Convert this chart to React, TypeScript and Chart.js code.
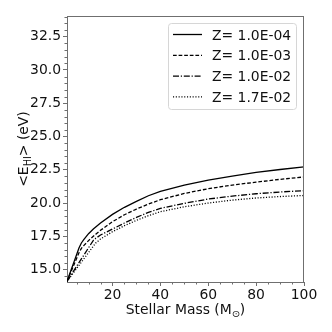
import React, { useEffect, useRef } from "react";
import { Chart, registerables } from "chart.js";

Chart.register(...registerables);

// ---- data ----
const masses = [1, 2, 3, 4, 5, 6, 7, 8, 10, 12, 13, 15, 20, 25, 30, 35, 40, 50, 60, 70, 80, 90, 100];
const zA = [14.12, 14.62, 15.12, 15.62, 16.12, 16.62, 17.0, 17.25, 17.7, 18.05, 18.2, 18.5, 19.15, 19.68, 20.12, 20.55, 20.88, 21.35, 21.72, 22.02, 22.3, 22.52, 22.72];
const zB = [14.12, 14.55, 14.98, 15.41, 15.84, 16.27, 16.6, 16.8, 17.18, 17.5, 17.65, 17.95, 18.6, 19.12, 19.55, 19.92, 20.25, 20.72, 21.08, 21.35, 21.57, 21.78, 21.96];
const zC = [14.12, 14.4, 14.68, 14.96, 15.24, 15.52, 15.8, 16.08, 16.64, 17.2, 17.35, 17.6, 18.05, 18.5, 18.92, 19.3, 19.6, 19.98, 20.3, 20.52, 20.7, 20.83, 20.93];
const zD = [14.12, 14.36, 14.6, 14.84, 15.08, 15.32, 15.56, 15.8, 16.28, 16.76, 17.0, 17.3, 17.85, 18.3, 18.7, 19.05, 19.35, 19.72, 20.0, 20.22, 20.38, 20.49, 20.57];
const seriesLabels = ["Z= 1.0E-04", "Z= 1.0E-03", "Z= 1.0E-02", "Z= 1.7E-02"];
const yTicks = [15, 17.5, 20, 22.5, 25, 27.5, 30, 32.5];
const xTicks = [20, 40, 60, 80, 100];
const xRange = [1, 100];
const yRange = [14.07, 34.05];

const FONT = "DejaVu Sans";
const FS = 13.9;
const TEXT = "#111111";
const SPINE = "#6f6f6f";
const dashes = [[], [3.7, 1.9], [6, 1.8, 1.2, 1.8], [1.1, 1.7]];

function drawRich(ctx: CanvasRenderingContext2D, parts: { t: string; sub?: boolean }[], cx: number, by: number) {
  const widths = parts.map((p) => {
    ctx.font = `${p.sub ? FS * 0.7 : FS}px "${FONT}"`;
    return ctx.measureText(p.t).width;
  });
  const total = widths.reduce((a, b) => a + b, 0);
  let x = cx - total / 2;
  parts.forEach((p, i) => {
    ctx.font = `${p.sub ? FS * 0.7 : FS}px "${FONT}"`;
    ctx.fillText(p.t, x, p.sub ? by + 3 : by);
    x += widths[i];
  });
}

const decor = {
  id: "decor",
  afterDraw(chart: any) {
    const { ctx, chartArea: ca, scales } = chart;
    const xs = scales.x;
    const ys = scales.y;
    ctx.save();
    // top + right spines
    ctx.strokeStyle = SPINE;
    ctx.lineWidth = 1;
    ctx.beginPath();
    ctx.moveTo(ca.left, Math.round(ca.top) + 0.5);
    ctx.lineTo(ca.right, Math.round(ca.top) + 0.5);
    ctx.moveTo(Math.round(ca.right) - 0.5, ca.top);
    ctx.lineTo(Math.round(ca.right) - 0.5, ca.bottom);
    ctx.stroke();
    // minor ticks
    ctx.beginPath();
    for (let v = 14.5; v <= yRange[1]; v += 0.5) {
      if (Math.abs(v / 2.5 - Math.round(v / 2.5)) < 1e-6) continue;
      const py = Math.round(ys.getPixelForValue(v)) + 0.5;
      ctx.moveTo(ca.left - 2.5, py);
      ctx.lineTo(ca.left, py);
    }
    for (let v = 5; v < 100; v += 5) {
      if (v % 20 === 0) continue;
      const px = Math.round(xs.getPixelForValue(v)) + 0.5;
      ctx.moveTo(px, ca.bottom);
      ctx.lineTo(px, ca.bottom + 2.5);
    }
    ctx.stroke();

    // axis titles
    ctx.fillStyle = TEXT;
    ctx.textBaseline = "alphabetic";
    ctx.textAlign = "left";
    drawRich(ctx, [{ t: "Stellar Mass (M" }, { t: "⊙", sub: true }, { t: ")" }], (ca.left + ca.right) / 2, 313.5);
    ctx.save();
    ctx.translate(27.5, (ca.top + ca.bottom) / 2);
    ctx.rotate(-Math.PI / 2);
    drawRich(ctx, [{ t: "<E" }, { t: "HI", sub: true }, { t: "> (eV)" }], 0, 0);
    ctx.restore();

    // legend
    const bx = 168.5, by = 23.5, bw = 128, bh = 86;
    ctx.globalAlpha = 0.8;
    ctx.fillStyle = "#ffffff";
    ctx.beginPath();
    ctx.roundRect(bx, by, bw, bh, 3);
    ctx.fill();
    ctx.globalAlpha = 1;
    ctx.strokeStyle = "#d6d6d6";
    ctx.lineWidth = 1;
    ctx.stroke();
    const rows = [34.5, 55.3, 76.1, 96.9];
    chart.data.datasets.forEach((ds: any, i: number) => {
      const ry = rows[i];
      ctx.strokeStyle = ds.borderColor;
      ctx.lineWidth = ds.borderWidth;
      ctx.setLineDash(ds.borderDash || []);
      ctx.beginPath();
      ctx.moveTo(173, ry);
      ctx.lineTo(202, ry);
      ctx.stroke();
      ctx.setLineDash([]);
      ctx.fillStyle = TEXT;
      ctx.font = `${FS}px "${FONT}"`;
      ctx.textAlign = "left";
      ctx.textBaseline = "alphabetic";
      ctx.fillText(ds.label, 212, ry + 5);
    });
    ctx.restore();
  },
};

export default function App() {
  const ref = useRef<HTMLCanvasElement | null>(null);
  useEffect(() => {
    if (!ref.current) return;
    const series = [zA, zB, zC, zD];
    const chart = new Chart(ref.current, {
      type: "line",
      data: {
        datasets: series.map((arr, i) => ({
          label: seriesLabels[i],
          data: masses.map((m, j) => ({ x: m, y: arr[j] })),
          borderColor: "#000000",
          borderWidth: 1.3,
          borderDash: dashes[i],
          pointRadius: 0,
          tension: 0,
          fill: false,
        })),
      },
      options: {
        animation: false,
        responsive: false,
        devicePixelRatio: 1,
        layout: { padding: { left: 0, top: 16, right: 28, bottom: 0 } },
        plugins: { legend: { display: false }, tooltip: { enabled: false } },
        scales: {
          x: {
            type: "linear",
            min: xRange[0],
            max: xRange[1],
            afterBuildTicks: (s: any) => {
              s.ticks = xTicks.map((v) => ({ value: v }));
            },
            afterFit: (s: any) => {
              s.height = 50;
            },
            grid: { display: true, drawOnChartArea: false, drawTicks: true, tickLength: 4, color: SPINE, lineWidth: 1 },
            border: { display: true, color: SPINE, width: 1 },
            ticks: {
              color: TEXT,
              font: { family: FONT, size: FS },
              padding: 1,
              maxRotation: 0,
              autoSkip: false,
              callback: (v: any) => String(v),
            },
          },
          y: {
            type: "linear",
            min: yRange[0],
            max: yRange[1],
            afterBuildTicks: (s: any) => {
              s.ticks = yTicks.map((v) => ({ value: v }));
            },
            afterFit: (s: any) => {
              s.width = 67;
            },
            grid: { display: true, drawOnChartArea: false, drawTicks: true, tickLength: 4, color: SPINE, lineWidth: 1 },
            border: { display: true, color: SPINE, width: 1 },
            ticks: {
              color: TEXT,
              font: { family: FONT, size: FS },
              padding: 2,
              autoSkip: false,
              callback: (v: any) => Number(v).toFixed(1),
            },
          },
        },
      },
      plugins: [decor],
    });
    return () => chart.destroy();
  }, []);
  return (
    <div style={{ position: "fixed", left: 0, top: 0, width: 332, height: 332, background: "#fff" }}>
      <canvas ref={ref} width={332} height={332} style={{ width: 332, height: 332, display: "block" }} />
    </div>
  );
}
